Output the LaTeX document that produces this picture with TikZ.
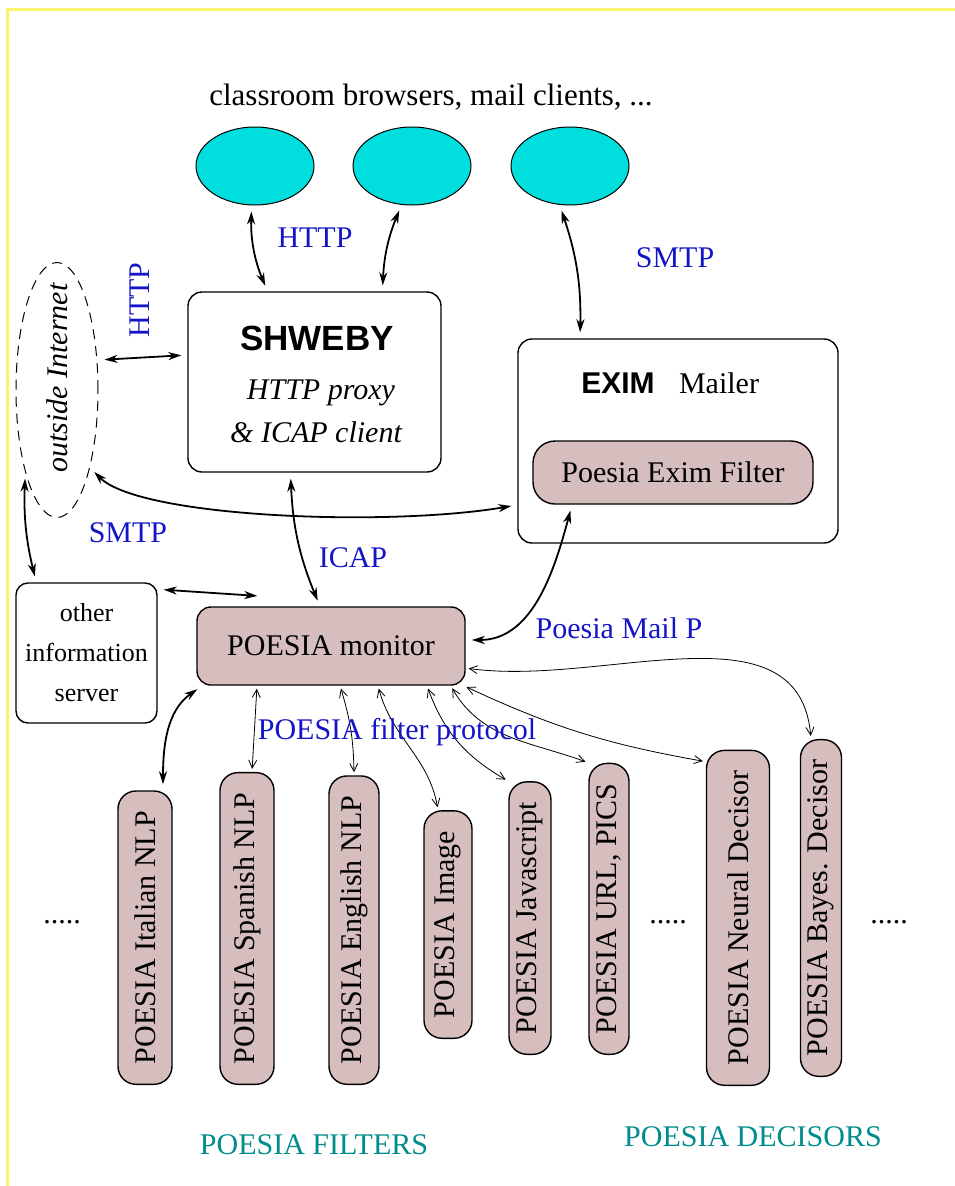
\documentclass[tikz,border=0pt]{standalone}
\usepackage{fontspec}
\setmainfont{Liberation Serif}
\setsansfont{Liberation Sans}
\usetikzlibrary{arrows.meta}
\usetikzlibrary{shapes.geometric}

\definecolor{clientcyan}{RGB}{0,222,222}
\definecolor{poesiapink}{RGB}{215,190,190}
\definecolor{protoblue}{RGB}{20,20,200}
\definecolor{groupteal}{RGB}{0,140,140}
\definecolor{frameyellow}{RGB}{248,248,110}

\tikzset{
  client/.style={ellipse, draw, fill=clientcyan, line width=1pt, minimum width=118pt, minimum height=78pt},
  server/.style={draw, rounded corners=14pt, line width=1.4pt, align=center},
  poesia/.style={server, fill=poesiapink},
  module/.style={poesia, rotate=90, anchor=west, rounded corners=18pt, inner xsep=20pt, inner ysep=0pt, minimum height=#1},
  proto/.style={text=protoblue},
  group/.style={text=groupteal},
  link/.style={<->, >={Stealth[length=13pt,width=8pt,inset=4pt]}, line width=1.8pt, shorten >=6pt, shorten <=6pt},
  flink/.style={<->, >={Straight Barb[length=8pt,width=8pt]}, line width=0.8pt, shorten >=3pt, shorten <=3pt},
}

\begin{document}
\begin{tikzpicture}[x=1pt,y=1pt,font=\fontsize{30}{34}\selectfont]

    % page and yellow frame
    \useasboundingbox (0,0) rectangle (955,-1186);
    \draw[frameyellow, line width=3pt] (7,-1186) -- (7,-9) -- (955,-9);

    % clients
    \node[font=\fontsize{31}{34}\selectfont] (clients) at (431,-97) {classroom browsers, mail clients, ...};
    \foreach \name/\x in {cla/255, clb/412, clc/570}
        \node[client] (\name) at (\x,-166) {};

    % proxy and mailer
    \node[server, minimum width=253pt, minimum height=180pt] (shweby) at (314.5,-382) {};
    \node (shwebyname) at (317,-338) {\sffamily\bfseries\fontsize{35}{40}\selectfont SHWEBY};
    \node (shwebyrole) at (321,-393) {\itshape HTTP proxy};
    \node (shwebyicap) at (316,-432) {\itshape \& ICAP client};

    \node[server, minimum width=320pt, minimum height=204pt] (exim) at (678,-441) {};
    \node (eximname) at (618,-383) {\sffamily\bfseries EXIM};
    \node (mailer) at (719,-383) {Mailer};
    \node[poesia, rounded corners=22pt, minimum width=280pt, minimum height=63pt] (eximfilter) at (673,-472.5) {Poesia Exim Filter};

    % outside world
    \node[ellipse, draw, dashed, dash pattern=on 10pt off 7pt, line width=1pt, minimum width=82pt, minimum height=255pt] (inet) at (57,-390) {};
    \node[rotate=90] (inetlabel) at (57,-378) {\itshape outside Internet};
    \node[server, rounded corners=12pt, minimum width=141pt, minimum height=140pt, font=\fontsize{26}{40}\selectfont] (info) at (86.5,-653) {other\\information\\server};

    % monitor
    \node[poesia, minimum width=268pt, minimum height=78pt] (monitor) at (331,-646) {POESIA monitor};

    % filters and decisors
    \foreach \name/\x/\y/\w/\txt in {ita/145/1085/54/{POESIA Italian NLP}, spa/247/1085/54/{POESIA Spanish NLP},
        eng/354/1085/50/{POESIA English NLP}, img/448/1039/48/{POESIA Image}, jsc/530/1055/42/{POESIA Javascript},
        url/609/1055/40/{POESIA URL, PICS}, neu/738/1086/63/{POESIA Neural Decisor}, bay/821/1077/41/{POESIA Bayes. Decisor}}
        \node[module=\w pt] (\name) at (\x,-\y) {\txt};

    \foreach \name/\x in {dotsa/62, dotsb/668, dotsc/889}
        \node (\name) at (\x,-922) {.....};

    % protocols between clients and servers
    \draw[link] (cla.-95) to[bend right=12] ([xshift=-47pt]shweby.north);
    \draw[link] (clb.-105) to[bend right=10] ([xshift=68pt]shweby.north);
    \draw[link] (clc.-105) to[bend left=10] ([xshift=-98pt]exim.north);
    \draw[link] ([yshift=30pt]inet.east) -- ([yshift=27pt]shweby.west);
    \draw[link] (inet.-67) .. controls +(50,-50) and +(-130,-22) .. ([yshift=-64pt]exim.west);
    \draw[link] (inet.-111) to[bend right=8] ([xshift=21pt]info.north west);
    \draw[link] ([yshift=-7pt]info.north east) -- ([xshift=67pt,yshift=10pt]monitor.north west);
    \draw[link] ([xshift=-24pt]shweby.south) to[bend right=10] ([xshift=-11pt]monitor.north);
    \draw[link] ([xshift=-101pt]eximfilter.south) to[out=-105,in=0] ([yshift=6pt]monitor.east);

    % filter protocol
    \draw[link] ([xshift=6pt]monitor.south west) to[out=215,in=90] ([xshift=18pt]ita.east);
    \draw[flink] ([xshift=-74pt]monitor.south) -- ([xshift=5pt]spa.east);
    \draw[flink] ([xshift=9pt]monitor.south) to[bend left=8] (eng.east);
    \draw[flink] ([xshift=47pt]monitor.south) to[out=-75,in=100] ([xshift=-10pt]img.east);
    \draw[flink] ([xshift=96pt]monitor.south) to[out=-70,in=150] (jsc.north east);
    \draw[flink] ([xshift=-15pt]monitor.south east) to[out=-60,in=160] (url.north east);
    \draw[flink] ([xshift=-2pt]monitor.south east) to[out=-25,in=170] ([yshift=-12pt]neu.north east);
    \draw[flink] ([yshift=-22pt]monitor.east) to[out=-8,in=95] ([xshift=-10pt]bay.east);

    % labels
    \node[proto] (httpa) at (315,-238) {HTTP};
    \node[proto] (smtpa) at (675,-258) {SMTP};
    \node[proto, rotate=90] (httpb) at (140,-300) {HTTP};
    \node[proto] (smtpb) at (128,-533) {SMTP};
    \node[proto] (icap) at (353,-558) {ICAP};
    \node[proto] (mailp) at (619,-628) {Poesia Mail P};
    \node[proto] (filterp) at (397,-732) {POESIA filter protocol};
    \node[group] (filters) at (314,-1145) {POESIA FILTERS};
    \node[group] (decisors) at (753,-1137) {POESIA DECISORS};

\end{tikzpicture}
\end{document}
